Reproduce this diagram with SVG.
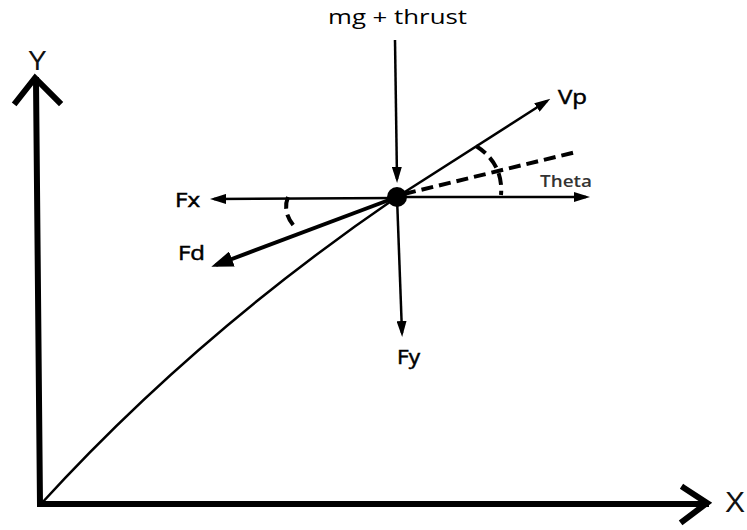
<svg xmlns="http://www.w3.org/2000/svg" width="747" height="530" viewBox="0 0 747 530">
<style>
.ln{fill:none;stroke:#000;stroke-width:2.5}
.ax{fill:none;stroke:#000;stroke-width:6;stroke-linecap:square;stroke-linejoin:miter}
.dsh{fill:none;stroke:#000;stroke-width:4;stroke-dasharray:12 6}
.lbl{font-family:"Open Sans","Liberation Sans",sans-serif;fill:#000}
.bd{stroke:#000;stroke-width:0.5}
</style>
<defs>
<marker id="arr" markerUnits="userSpaceOnUse" viewBox="0 0 16 10" markerWidth="16" markerHeight="10" refX="12" refY="5" orient="auto">
<path d="M0,0 L16,5 L0,10 Z" fill="#000"/>
</marker>
<marker id="arrBig" markerUnits="userSpaceOnUse" viewBox="0 0 22 16" markerWidth="22" markerHeight="16" refX="17" refY="8" orient="auto">
<path d="M0,0 L22,8 L0,16 Z" fill="#000"/>
</marker>
</defs>
<rect width="747" height="530" fill="#fff"/>
<g id="axes">
<path class="ax" d="M36,80 L40,504 L706,504"/>
<path class="ax" d="M16,102 L35,78 L59,102"/>
<path class="ax" d="M684,488 L707,503 L683,521"/>
</g>
<g id="connectors">
<path class="ln" d="M40,505 Q195,335 397,197"/>
<line class="ln" x1="395" y1="40" x2="397" y2="179" marker-end="url(#arr)"/>
<line class="ln" x1="397" y1="197" x2="402" y2="333" marker-end="url(#arr)"/>
<line class="ln" x1="397" y1="198" x2="214" y2="199" marker-end="url(#arr)"/>
<line class="ln" x1="397" y1="197" x2="586" y2="197" marker-end="url(#arr)"/>
<line class="ln" x1="397" y1="197" x2="547" y2="101" marker-end="url(#arr)"/>
<line x1="397" y1="197" x2="216" y2="265" stroke="#000" stroke-width="4" marker-end="url(#arrBig)"/>
<line class="dsh" x1="404" y1="194" x2="576" y2="152"/>
<path class="dsh" d="M476,146 C492,156 503,172 501,195" stroke-dasharray="9 6"/>
<path class="dsh" d="M288,197 C284,207 286,218 296,228" stroke-width="3.5" stroke-dasharray="3 8 6 6"/>
</g>
<g id="point">
<circle cx="397" cy="197" r="10" fill="#000"/>
</g>
<g id="labels">
<text class="lbl" x="328" y="24" font-size="20" textLength="139" lengthAdjust="spacingAndGlyphs">mg + thrust</text>
<text class="lbl bd" x="558" y="104" font-size="20" textLength="29" lengthAdjust="spacingAndGlyphs">Vp</text>
<text class="lbl" x="540" y="187" font-size="16" font-weight="600" textLength="52" lengthAdjust="spacingAndGlyphs" style="fill:#333">Theta</text>
<text class="lbl bd" x="175" y="207" font-size="20" textLength="25" lengthAdjust="spacingAndGlyphs">Fx</text>
<text class="lbl bd" x="178" y="260" font-size="20" textLength="27" lengthAdjust="spacingAndGlyphs">Fd</text>
<text class="lbl bd" x="397" y="364" font-size="20" textLength="23" lengthAdjust="spacingAndGlyphs">Fy</text>
<text x="28" y="70" font-family="'Liberation Sans',Arial,sans-serif" font-size="28" fill="#111">Y</text>
<text x="725" y="512" font-family="'Liberation Sans',Arial,sans-serif" font-size="30" fill="#111">X</text>
</g>
</svg>
